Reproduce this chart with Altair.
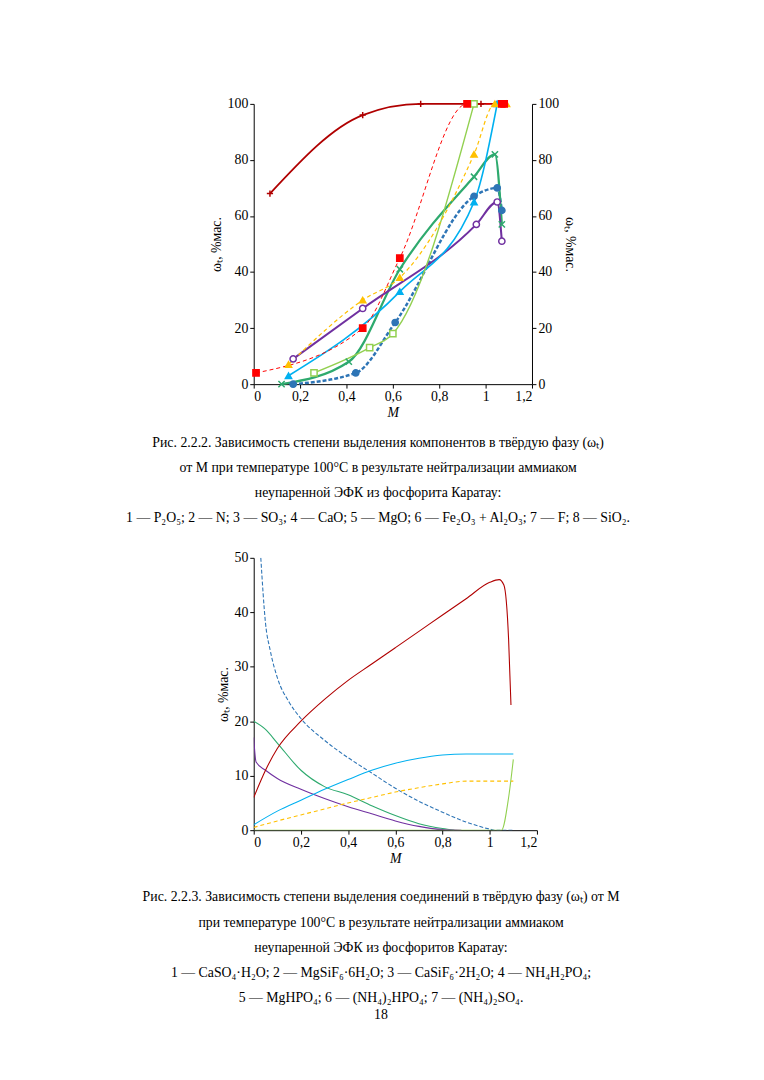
import pandas as pd
import altair as alt

# --- Рис. 2.2.2: компоненты ---
s1_x = [0.17, 0.44, 0.61, 0.95, 1.05, 1.07]
s1_y = [0, 4, 22, 67, 70, 62]
s2_x = [0.12, 0.41, 0.63, 0.95, 1.04, 1.07]
s2_y = [0, 8, 41, 74, 82, 57]
s3_x = [0.17, 0.47, 0.96, 1.05, 1.07]
s3_y = [9, 27, 57, 65, 51]
s4_x = [0.07, 0.47, 0.72, 0.98, 1.05]
s4_y = [68, 96, 100, 100, 100]
s5_x = [0.15, 0.63, 0.95, 1.05]
s5_y = [3, 33, 65, 100]
s6_x = [0.26, 0.50, 0.60, 0.95]
s6_y = [4, 13, 18, 100]
s7_x = [0.15, 0.47, 0.63, 0.95, 1.04, 1.09]
s7_y = [7, 30, 38, 82, 100, 100]
s8_x = [0.01, 0.47, 0.63, 0.92, 1.07, 1.08]
s8_y = [4, 20, 45, 100, 100, 100]

top_series = ['1', '2', '3', '4', '5', '6', '7', '8']
top_colors = ['#2E75B6', '#2EAA6E', '#7030A0', '#B00000', '#00B0F0', '#92D050', '#FFC000', '#FF0000']
top_shapes = ['circle', 'M-1,-1L1,1M-1,1L1,-1', 'circle', 'M-1,0L1,0M0,-1L0,1',
              'triangle-up', 'square', 'triangle-up', 'square']
top_fills = ['#2E75B6', 'transparent', 'white', 'transparent', '#00B0F0', 'white', '#FFC000', '#FF0000']
top_dash = [[4, 2], [], [], [], [], [], [4, 3], [4, 3]]
top_width = [2.5, 1, 1, 2.5, 1, 1, 1, 1]

# --- Рис. 2.2.3: соединения ---
b1_x = [0.03, 0.05, 0.07, 0.10, 0.15, 0.2, 0.3, 0.4, 0.5, 0.6, 0.7, 0.8, 0.9, 1.0, 1.02, 1.1]
b1_y = [50, 38, 33, 28, 23.5, 20.5, 16.5, 13.3, 10.5, 7.7, 5.3, 3.3, 1.5, 0.2, 0, 0]
b2_x = [0, 0.05, 0.1, 0.2, 0.3, 0.4, 0.5, 0.6, 0.7, 0.8, 0.85]
b2_y = [20, 18.5, 16, 11, 8, 6.5, 4.5, 2.7, 1.2, 0.3, 0]
b3_x = [0, 0.01, 0.05, 0.1, 0.2, 0.3, 0.4, 0.5, 0.6, 0.7, 0.8, 0.88]
b3_y = [17, 12.5, 11, 9.5, 7.5, 5.8, 4.3, 3, 1.7, 0.7, 0.1, 0]
b4_x = [0, 0.05, 0.1, 0.2, 0.3, 0.4, 0.5, 0.6, 0.7, 0.8, 0.9, 1.0, 1.04, 1.06, 1.08, 1.09]
b4_y = [6, 11, 15, 20, 24, 27.5, 30.5, 33.5, 36.5, 39.5, 42.5, 45.5, 46, 45, 35, 23]
b5_x = [0, 0.1, 0.2, 0.3, 0.4, 0.5, 0.6, 0.7, 0.8, 0.9, 1.1]
b5_y = [1, 3.5, 5.5, 7.5, 9.3, 11, 12.3, 13.2, 13.8, 14, 14]
b6_x = [0, 0.5, 1.05, 1.08, 1.1]
b6_y = [0, 0, 0, 6, 13]
b7_x = [0, 0.1, 0.2, 0.3, 0.4, 0.5, 0.6, 0.7, 0.8, 0.9, 1.0, 1.1]
b7_y = [0.5, 1.7, 2.8, 3.9, 5, 6, 7, 7.8, 8.5, 9, 9, 9]

bot_series = ['1', '2', '3', '4', '5', '6', '7']
bot_colors = ['#C0504D', '#4BAA6E', '#4BACC6', '#D9686A', '#3F8FB8', '#9A72B0', '#7F3F5F']
bot_dash = [[], [5, 3], [8, 3, 2, 3], [10, 3, 2, 3, 2, 3], [2, 2], [2, 1], [6, 2, 2, 2, 2, 2]]

caption1 = [
    'Рис. 2.2.2. Зависимость степени выделения компонентов в твёрдую фазу (ωₜ)',
    'от M при температуре 100°C в результате нейтрализации аммиаком',
    'неупаренной ЭФК из фосфорита Каратау:',
    '1 — P₂O₅; 2 — N; 3 — SO₃; 4 — CaO; 5 — MgO; 6 — Fe₂O₃ + Al₂O₃; 7 — F; 8 — SiO₂.',
]
caption2 = [
    'Рис. 2.2.3. Зависимость степени выделения соединений в твёрдую фазу (ωₜ) от M',
    'при температуре 100°C в результате нейтрализации аммиаком',
    'неупаренной ЭФК из фосфоритов Каратау:',
    '1 — CaSO₄·H₂O; 2 — MgSiF₆·6H₂O; 3 — CaSiF₆·2H₂O; 4 — NH₄H₂PO₄;',
    '5 — MgHPO₄; 6 — (NH₄)₂HPO₄; 7 — (NH₄)₂SO₄.',
    '18',
]

FONT = 'Liberation Serif'
x_labels = "replace(format(datum.value, '.1~f'), '.', ',')"


def long_table(xs, ys, names):
    rows = []
    for i, (xx, yy) in enumerate(zip(xs, ys)):
        for a, b in zip(xx, yy):
            rows.append({'M': a, 'w': b, 'series': names[i]})
    return pd.DataFrame(rows)


def x_axis():
    return alt.X('M:Q', scale=alt.Scale(domain=[0, 1.2]),
                 axis=alt.Axis(values=[0, 0.2, 0.4, 0.6, 0.8, 1, 1.2], labelExpr=x_labels, title='M',
                               titleFontStyle='italic', titleFontWeight='normal', titlePadding=2))


# Top chart
top_df = long_table([s1_x, s2_x, s3_x, s4_x, s5_x, s6_x, s7_x, s8_x],
                    [s1_y, s2_y, s3_y, s4_y, s5_y, s6_y, s7_y, s8_y], top_series)

y_top = alt.Y('w:Q', scale=alt.Scale(domain=[0, 100]),
              axis=alt.Axis(values=[0, 20, 40, 60, 80, 100], title='ωₜ, %мас.', titleFontWeight='normal'))

lines_top = alt.Chart(top_df).mark_line(interpolate='monotone').encode(
    x=x_axis(), y=y_top,
    color=alt.Color('series:N', scale=alt.Scale(domain=top_series, range=top_colors), legend=None),
    strokeDash=alt.StrokeDash('series:N', scale=alt.Scale(domain=top_series, range=top_dash), legend=None),
    strokeWidth=alt.StrokeWidth('series:N', scale=alt.Scale(domain=top_series, range=top_width), legend=None),
    detail='series:N'
)
legend_top = alt.Legend(title=None, orient='none', legendX=232, legendY=150, labelFont=FONT,
                        labelFontSize=14, rowPadding=1, symbolSize=40)
points_top = alt.Chart(top_df).mark_point(size=40, strokeWidth=1.5, opacity=1).encode(
    x=x_axis(), y=y_top,
    color=alt.Color('series:N', scale=alt.Scale(domain=top_series, range=top_colors), legend=legend_top),
    shape=alt.Shape('series:N', scale=alt.Scale(domain=top_series, range=top_shapes), legend=legend_top),
    fill=alt.Fill('series:N', scale=alt.Scale(domain=top_series, range=top_fills), legend=legend_top),
)

cap1_df = pd.DataFrame({'t': caption1, 'yy': [344, 369, 394, 420]})
cap1 = alt.Chart(cap1_df).mark_text(font=FONT, fontSize=14, align='center', baseline='middle', color='black').encode(
    x=alt.value(126), y=alt.Y('yy:Q', scale=None), text='t:N')

# invisible frame covering the page, so the layout keeps the page's own margins
frame = alt.Chart(pd.DataFrame({'a': [0]})).mark_rect(fill='transparent', stroke='transparent').encode(
    x=alt.value(-248), x2=alt.value(508), y=alt.value(-89), y2=alt.value(983))

top = alt.layer(frame, lines_top, points_top, cap1).resolve_scale(y='independent').properties(width=282, height=284)

# Bottom chart
bot_df = long_table([b1_x, b2_x, b3_x, b4_x, b5_x, b6_x, b7_x],
                    [b1_y, b2_y, b3_y, b4_y, b5_y, b6_y, b7_y], bot_series)
y_bot = alt.Y('w:Q', scale=alt.Scale(domain=[0, 50]),
              axis=alt.Axis(values=[0, 10, 20, 30, 40, 50], title='ωₜ, %мас.', titleFontWeight='normal'))
legend_bot = alt.Legend(title=None, orient='none', legendX=45, legendY=-4, labelFont=FONT,
                        labelFontSize=14, rowPadding=3, symbolType='stroke', symbolSize=500,
                        symbolStrokeWidth=1.2)
lines_bot = alt.Chart(bot_df).mark_line(interpolate='monotone', strokeWidth=1.1, clip=True).encode(
    x=x_axis(), y=y_bot,
    color=alt.Color('series:N', scale=alt.Scale(domain=bot_series, range=bot_colors), legend=legend_bot),
    strokeDash=alt.StrokeDash('series:N', scale=alt.Scale(domain=bot_series, range=bot_dash), legend=legend_bot),
)
cap2_df = pd.DataFrame({'t': caption2, 'yy': [344, 370, 395, 421, 446, 463]})
cap2 = alt.Chart(cap2_df).mark_text(font=FONT, fontSize=14, align='center', baseline='middle', color='black').encode(
    x=alt.value(129), y=alt.Y('yy:Q', scale=None), text='t:N')

bottom = alt.layer(lines_bot, cap2).resolve_scale(y='independent').properties(width=287, height=276)

chart = alt.vconcat(top, bottom, spacing=176, bounds='flush').properties(
    padding=0,
).configure_view(stroke=None).configure_axis(
    labelFont=FONT, titleFont=FONT, labelFontSize=14, titleFontSize=14, grid=False,
    domainColor='black', tickColor='black', labelColor='black', titleColor='black', tickSize=4
)

chart.save("out.html", embed_options={"renderer": "svg", "actions": False})
